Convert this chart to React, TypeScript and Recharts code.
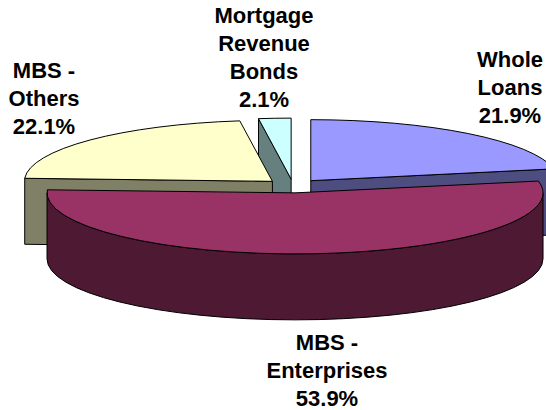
import React from 'react';
import { PieChart, Pie } from 'recharts';

const names = ['Whole Loans', 'Mortgage Revenue Bonds', 'MBS - Others', 'MBS - Enterprises'];
const shares = [21.9, 2.1, 22.1, 53.9];
const labelLines = [
  ['Whole', 'Loans'],
  ['Mortgage', 'Revenue', 'Bonds'],
  ['MBS -', 'Others'],
  ['MBS -', 'Enterprises'],
];
const topColors = ['#9999ff', '#ccffff', '#ffffcc', '#993366'];
const wallColors = ['#4d4d80', '#668080', '#808066', '#4d1933'];

const chartData = names.map((name, i) => ({
  name,
  value: shares[i],
  lines: labelLines[i],
  fill: topColors[i],
  wall: wallColors[i],
}));

// where each label block sits: centre x, first baseline
const labelAnchors: Record<string, [number, number]> = {
  'Whole Loans': [510, 67],
  'Mortgage Revenue Bonds': [264, 23],
  'MBS - Others': [44, 78],
  'MBS - Enterprises': [327, 350],
};

const SQUASH = 0.246; // tilt of the pie
const DEPTH = 66;
const EXPLODE = 28;
const LINE_H = 28;
const RAD = Math.PI / 180;

const Slice3D = (props: any) => {
  const { cx, cy, outerRadius, startAngle, endAngle, fill, payload } = props;
  const s = Math.min(startAngle, endAngle);
  const e = Math.max(startAngle, endAngle);
  const mid = (s + e) / 2;
  const rx = outerRadius;
  const ry = outerRadius * SQUASH;
  const ax = cx + EXPLODE * Math.cos(mid * RAD);
  const ay = cy - EXPLODE * SQUASH * Math.sin(mid * RAD);
  const pt = (deg: number, drop = 0) => [
    ax + rx * Math.cos(deg * RAD),
    ay - ry * Math.sin(deg * RAD) + drop,
  ];
  const [sx, sy] = pt(s);
  const [ex, ey] = pt(e);
  const large = e - s > 180 ? 1 : 0;
  const stroke = '#000';
  const wall = payload.wall;

  const cutWall = (deg: number) => {
    const [px, py] = pt(deg);
    return `M${ax},${ay}L${px},${py}L${px},${py + DEPTH}L${ax},${ay + DEPTH}Z`;
  };

  const from = Math.max(s, 180);
  const to = Math.min(e, 360);
  let rim = null;
  if (to > from) {
    const [x0, y0] = pt(from);
    const [x1, y1] = pt(to);
    const big = to - from > 180 ? 1 : 0;
    rim = `M${x0},${y0}A${rx},${ry} 0 ${big} 0 ${x1},${y1}L${x1},${y1 + DEPTH}A${rx},${ry} 0 ${big} 1 ${x0},${y0 + DEPTH}Z`;
  }

  return (
    <g>
      {Math.cos(s * RAD) > 0.001 && <path d={cutWall(s)} fill={wall} stroke={stroke} strokeWidth={1} />}
      {Math.cos(e * RAD) < -0.001 && <path d={cutWall(e)} fill={wall} stroke={stroke} strokeWidth={1} />}
      {rim && <path d={rim} fill={wall} stroke={stroke} strokeWidth={1} />}
      <path
        d={`M${ax},${ay}L${sx},${sy}A${rx},${ry} 0 ${large} 0 ${ex},${ey}Z`}
        fill={fill}
        stroke={stroke}
        strokeWidth={1}
      />
    </g>
  );
};

const renderLabel = (props: any) => {
  const { name, value, lines } = props.payload ?? props;
  const [x, y] = labelAnchors[name];
  const all = [...lines, `${value.toFixed(1)}%`];
  return (
    <text
      key={name}
      x={x}
      y={y}
      textAnchor="middle"
      fontFamily="'Liberation Sans', Arial, sans-serif"
      fontWeight="bold"
      fontSize={22}
      fill="#000"
    >
      {all.map((line: string, i: number) => (
        <tspan key={i} x={x} y={y + i * LINE_H}>
          {line}
        </tspan>
      ))}
    </text>
  );
};

export default function App() {
  return (
    <div style={{ position: 'absolute', left: 0, top: 0, width: 546, height: 410, background: '#fff' }}>
      <PieChart width={546} height={410} margin={{ top: 0, right: 0, bottom: 0, left: 0 }}>
        {/* runs counter-clockwise so the front slice paints last */}
        <Pie
          data={chartData}
          dataKey="value"
          nameKey="name"
          cx={293}
          cy={186}
          outerRadius={248}
          startAngle={11.16}
          endAngle={371.16}
          stroke="none"
          shape={Slice3D}
          label={renderLabel}
          labelLine={false}
          isAnimationActive={false}
        />
      </PieChart>
    </div>
  );
}
